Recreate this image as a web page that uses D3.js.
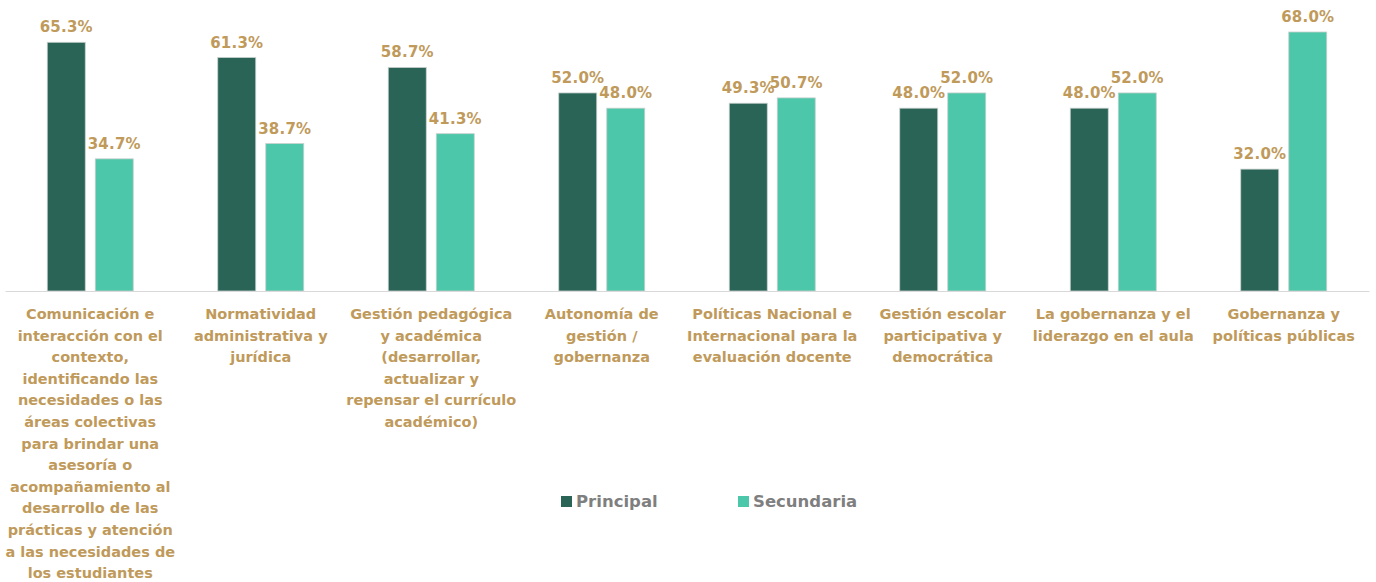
<!DOCTYPE html>
<html><head><meta charset="utf-8">
<script src="https://cdn.jsdelivr.net/npm/d3@7"></script>
<style>
html,body{margin:0;padding:0;background:#fff;}
svg{display:block;font-family:"DejaVu Sans",sans-serif;font-weight:bold;}
</style></head>
<body><svg id="c" width="1376" height="582"></svg>
<script>
const categories = [
  "Comunicación e|interacción con el|contexto,|identificando las|necesidades o las|áreas colectivas|para brindar una|asesoría o|acompañamiento al|desarrollo de las|prácticas y atención|a las necesidades de|los estudiantes",
  "Normatividad|administrativa y|jurídica",
  "Gestión pedagógica|y académica|(desarrollar,|actualizar y|repensar el currículo|académico)",
  "Autonomía de|gestión /|gobernanza",
  "Políticas Nacional e|Internacional para la|evaluación docente",
  "Gestión escolar|participativa y|democrática",
  "La gobernanza y el|liderazgo en el aula",
  "Gobernanza y|políticas públicas"
];
const principal = [65.3, 61.3, 58.7, 52.0, 49.3, 48.0, 48.0, 32.0];
const secundaria = [34.7, 38.7, 41.3, 48.0, 50.7, 52.0, 52.0, 68.0];
const seriesNames = ["Principal", "Secundaria"];
const colors = ["#2A6457", "#4DC7A9"];

const svg = d3.select("#c");
const left = 5, right = 1369, baseY = 291;
const x0 = d3.scaleBand().domain(d3.range(categories.length)).range([left, right]).padding(0);
const x1 = d3.scaleBand().domain([0, 1]).range([0, 86]).paddingInner(10/48);
const y = d3.scaleLinear().domain([0, 68]).range([baseY, baseY - 259]);

const data = categories.map((c, i) => ({i, vals: [principal[i], secundaria[i]]}));
const g = svg.append("g");
const groups = g.selectAll("g.grp").data(data).join("g")
  .attr("transform", d => `translate(${x0(d.i) + x0.bandwidth()/2 - 43},0)`);

groups.selectAll("rect").data(d => d.vals.map((v, k) => ({v, k}))).join("rect")
  .attr("x", d => x1(d.k)).attr("width", x1.bandwidth())
  .attr("y", d => y(d.v)).attr("height", d => y(0) - y(d.v))
  .attr("fill", d => colors[d.k]).attr("stroke", "#c8d0cc").attr("stroke-width", 0.8);

groups.selectAll("text.val").data(d => d.vals.map((v, k) => ({v, k}))).join("text")
  .attr("class", "val")
  .attr("x", d => x1(d.k) + x1.bandwidth()/2).attr("y", d => y(d.v) - 10)
  .attr("text-anchor", "middle").attr("fill", "#C09A5B").attr("font-size", 15)
  .attr("letter-spacing", 0.2)
  .text(d => d.v.toFixed(1) + "%");

// axis line
const axis = d3.axisBottom(x0).tickSize(0).tickFormat("");
svg.append("g").attr("transform", `translate(0,${baseY})`).call(axis)
  .call(a => a.select(".domain").attr("stroke", "#d9d9d9").attr("stroke-width", 1.2));

// category labels
data.forEach(d => {
  const t = svg.append("text").attr("text-anchor", "middle").attr("fill", "#C09A5B")
    .attr("font-size", 14.5);
  categories[d.i].split("|").forEach((line, j) => {
    t.append("tspan").attr("x", x0(d.i) + x0.bandwidth()/2).attr("y", 319 + j * 21.6).text(line);
  });
});

// legend
const legX = [561, 738];
seriesNames.forEach((s, k) => {
  svg.append("rect").attr("x", legX[k]).attr("y", 496).attr("width", 11).attr("height", 11)
    .attr("fill", colors[k]);
  svg.append("text").attr("x", legX[k] + 15).attr("y", 507).attr("fill", "#7F7F7F")
    .attr("font-size", 16.5).text(s);
});
</script></body></html>
